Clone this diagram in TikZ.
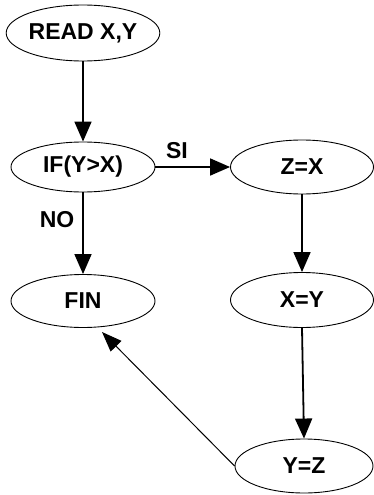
\documentclass[tikz,border=0pt]{standalone}
\usepackage{fontspec}
\setmainfont{Liberation Sans}
\usetikzlibrary{shapes.geometric,arrows.meta}

\tikzset{
  oval/.style={draw=black, line width=0.9pt, ellipse, inner sep=0pt,
    font=\fontsize{23}{26}\selectfont\bfseries},
  flow/.style={draw=black, line width=1.8pt,
    -{Triangle[length=20pt,width=17pt]}},
  thinflow/.style={draw=black, line width=1pt,
    -{Triangle[length=20pt,width=15pt]}},
  tag/.style={font=\fontsize{23}{26}\selectfont\bfseries, inner sep=0pt}
}

\begin{document}
\begin{tikzpicture}[x=1pt, y=-1pt]
  \useasboundingbox[fill=white] (0,0) rectangle (374,495);

  % program steps
  \node[oval, minimum width=144pt, minimum height=56pt] (read) at (83,33)  {READ X,Y};
  \node[oval, minimum width=144pt, minimum height=50pt] (if)   at (83,167) {IF(Y>X)};
  \node[oval, minimum width=143pt, minimum height=54pt] (zx)   at (302,167) {Z=X};
  \node[oval, minimum width=144pt, minimum height=53pt] (fin)  at (83,301) {FIN};
  \node[oval, minimum width=143pt, minimum height=55pt] (xy)   at (302,300) {X=Y};
  \node[oval, minimum width=138pt, minimum height=54pt] (yz)   at (304,466) {Y=Z};

  % control flow
  \draw[flow] (read) -- (if);
  \draw[flow] (if) -- (zx);
  \draw[flow] (if) -- (fin);
  \draw[flow] (zx) -- (xy);
  \draw[flow] (xy.south) -- (yz.north);
  \draw[thinflow] (yz.west) -- ([shift={(19,31)}]fin.center);

  % branch labels
  \node[tag] (si) at (177,151) {SI};
  \node[tag] (no) at (57,220) {NO};
\end{tikzpicture}
\end{document}
